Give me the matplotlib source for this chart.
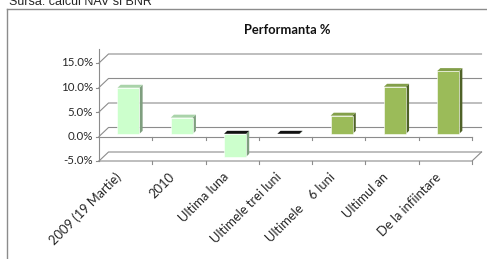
import matplotlib
matplotlib.use("Agg")
import matplotlib.pyplot as plt
from matplotlib.patches import Polygon
from matplotlib.lines import Line2D
from matplotlib.transforms import offset_copy

# data (percent)
categories = ['2009 (19 Martie)', '2010', 'Ultima luna', 'Ultimele trei luni',
              'Ultimele    6 luni', 'Ultimul an', 'De la infiintare']
values = [9.4, 3.3, -4.7, -0.1, 3.7, 9.6, 12.8]
light = [True, True, True, True, False, False, False]
yticks = [-5, 0, 5, 10, 15]
ytick_labels = ['-5.0%', '0.0%', '5.0%', '10.0%', '15.0%']

W, H = 487, 259
fig = plt.figure(figsize=(W / 100, H / 100), dpi=100)
fig.patch.set_facecolor('white')

# plot area of the front plane: x 99..472 px, y 63..161 px
ax = fig.add_axes([99 / W, 1 - 161 / H, 373 / W, 98 / H])
ax.set_xlim(-0.5, 6.5)
ax.set_ylim(-5, 15)
ax.axis('off')

sx = 7 / 373.0    # data units per pixel, x
sy = 20 / 98.0    # data units per pixel, y
Dx, Dy = 9.5 * sx, 9 * sy   # depth of the 3d box
grid = '#8c8c8c'
font = 'Lato'
txt = '#262626'

# back wall gridlines with the slanted side-wall part
for v in yticks:
    ax.plot([-0.5, -0.5 + Dx, 6.5 + Dx], [v, v + Dy, v + Dy], color=grid, lw=0.8,
            clip_on=False, zorder=1)
# floor front edge and right edge
ax.plot([-0.5, 6.5, 6.5 + Dx], [-5, -5, -5 + Dy], color=grid, lw=0.8, clip_on=False, zorder=1)
# category axis at 0
ax.plot([-0.5, 6.5], [0, 0], color=grid, lw=0.8, clip_on=False, zorder=1)
for k in range(7):
    for base in (0, -5):
        ax.plot([k + 0.5, k + 0.5], [base, base - 3 * sy], color=grid, lw=0.8,
                clip_on=False, zorder=1)
# value axis
ax.plot([-0.5, -0.5], [-5, (136.5 - 49) / 4.9], color=grid, lw=0.8, clip_on=False, zorder=1)
for v, lab in zip(yticks, ytick_labels):
    ax.plot([-0.5 - 3 * sx, -0.5], [v, v], color=grid, lw=0.8, clip_on=False)
    ax.text(-0.5 - 6 * sx, v, lab, ha='right', va='center', fontsize=8.3,
            family=font, color=txt)

# 3d bars
bw = 22 * sx
f = 0.3
dx, dy = 0.33 * Dx, 0.33 * Dy
for i, (v, lt) in enumerate(zip(values, light)):
    if lt:
        front, side, top = '#ccffcc', '#7f9f7f', '#a9d3a9'
    else:
        front, side, top = '#9bbb59', '#4f6228', '#839f4a'
    x0 = i - bw / 2 + f * Dx
    y0 = f * Dy
    y1 = y0 + v
    hi = max(y0, y1)
    lo = min(y0, y1)
    ax.add_patch(Polygon([(x0 + bw, lo), (x0 + bw + dx, lo + dy), (x0 + bw + dx, hi + dy),
                          (x0 + bw, hi)], closed=True, facecolor=side, edgecolor='none',
                         zorder=3, clip_on=False))
    ax.add_patch(Polygon([(x0, lo), (x0 + bw, lo), (x0 + bw, hi), (x0, hi)], closed=True,
                         facecolor=front, edgecolor='white', lw=0.4, zorder=4, clip_on=False))
    cap = top if v > 0 else '#111111'
    ax.add_patch(Polygon([(x0, hi), (x0 + bw, hi), (x0 + bw + dx, hi + dy), (x0 + dx, hi + dy)],
                         closed=True, facecolor=cap, edgecolor='none', zorder=4, clip_on=False))

# category labels
lab_tr = offset_copy(ax.transData, fig=fig, x=-6, y=-14, units='dots')
for i, c in enumerate(categories):
    ax.text(i, -5, c, rotation=45, ha='right', va='center', rotation_mode='anchor',
            fontsize=9.3, family=font, color=txt, transform=lab_tr)

# title and source
fig.text(287 / W, 1 - 30 / H, 'Performanta %', ha='center', va='center', fontsize=9.3,
         weight='bold', family=font, color='#111111')
fig.text(9 / W, 1 - 5 / H, 'Sursa: calcul NAV si BNR', ha='left', va='baseline',
         fontsize=9, family='Liberation Sans', color=txt)

# chart frame (cut at the right and bottom)
fig.add_artist(Line2D([7 / W, 7 / W], [0, 1 - 9 / H], color=grid, lw=1))
fig.add_artist(Line2D([7 / W, 1], [1 - 9 / H, 1 - 9 / H], color=grid, lw=1))

fig.savefig('out.png', dpi=100, facecolor='white')
